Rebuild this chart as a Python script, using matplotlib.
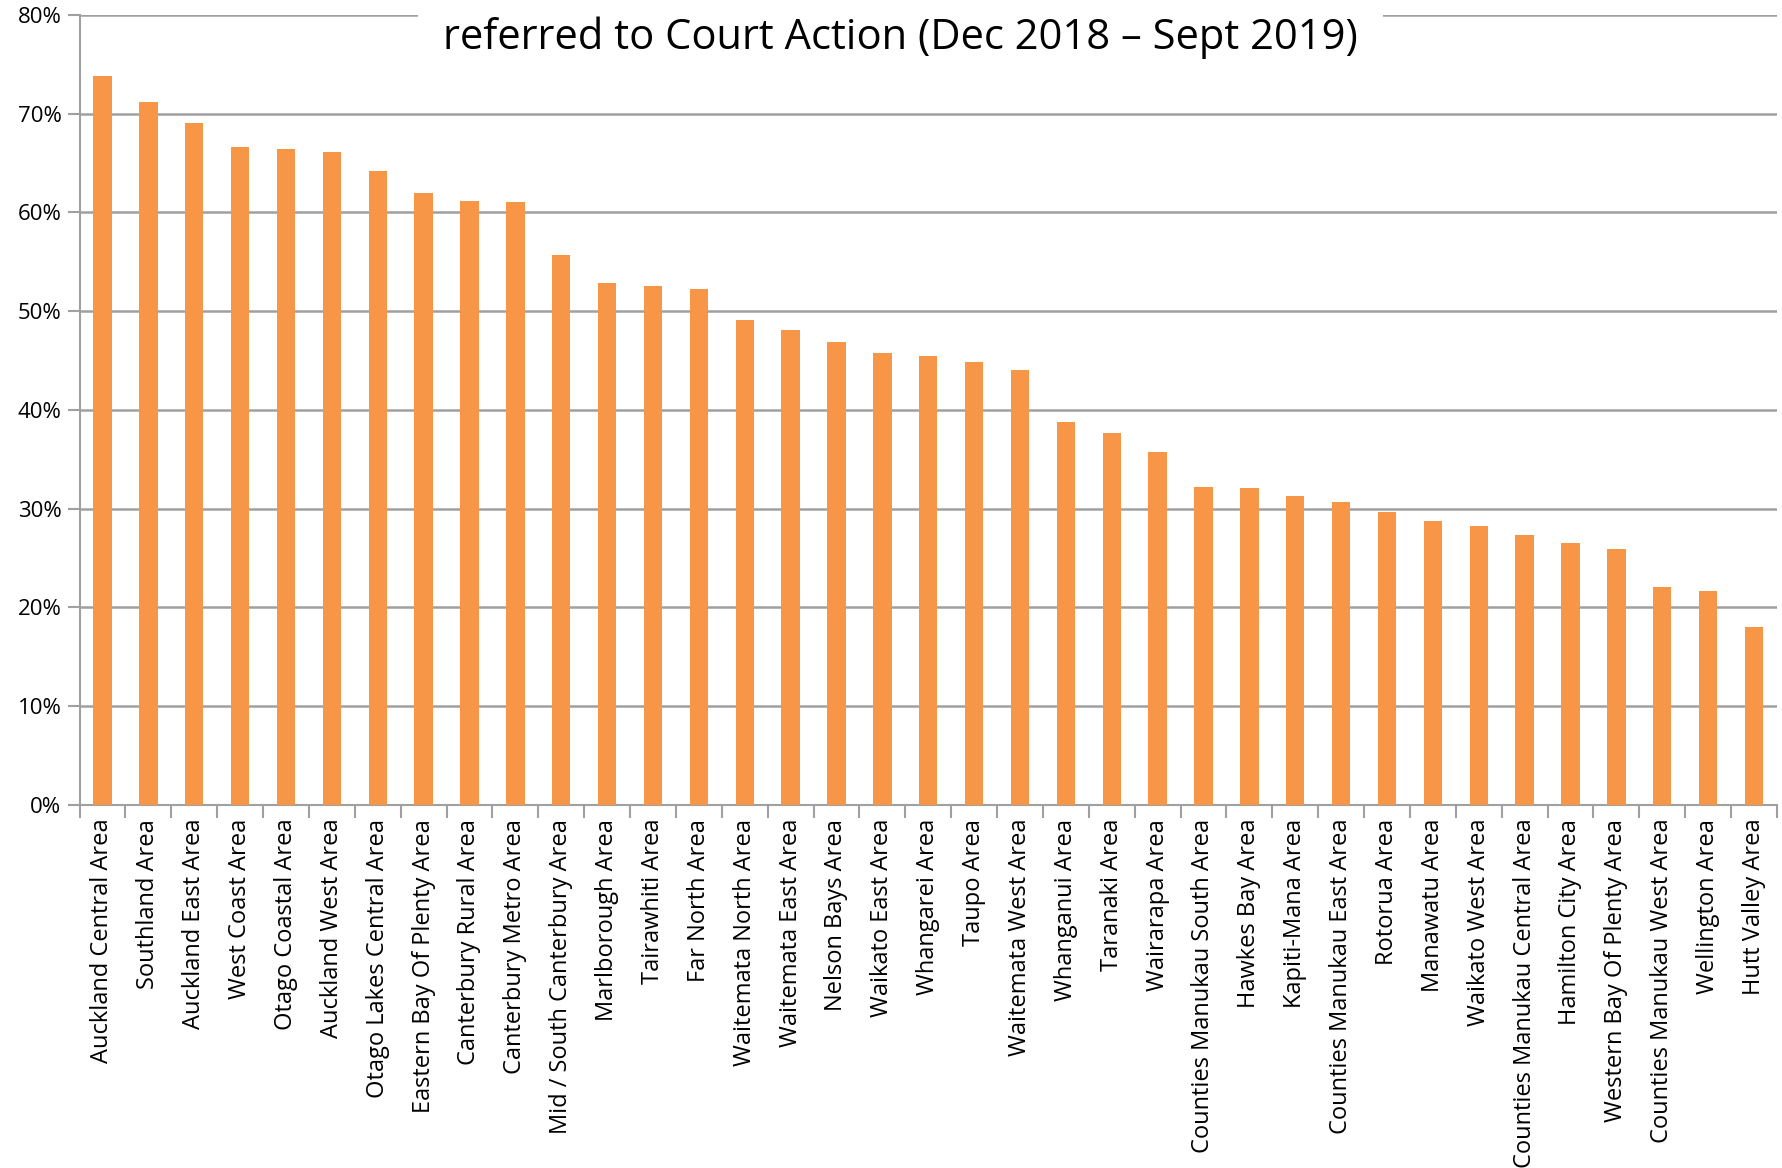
import matplotlib.pyplot as plt
from matplotlib.ticker import PercentFormatter

areas = [
    "Auckland Central Area", "Southland Area", "Auckland East Area", "West Coast Area",
    "Otago Coastal Area", "Auckland West Area", "Otago Lakes Central Area",
    "Eastern Bay Of Plenty Area", "Canterbury Rural Area", "Canterbury Metro Area",
    "Mid / South Canterbury Area", "Marlborough Area", "Tairawhiti Area", "Far North Area",
    "Waitemata North Area", "Waitemata East Area", "Nelson Bays Area", "Waikato East Area",
    "Whangarei Area", "Taupo Area", "Waitemata West Area", "Whanganui Area", "Taranaki Area",
    "Wairarapa Area", "Counties Manukau South Area", "Hawkes Bay Area", "Kapiti-Mana Area",
    "Counties Manukau East Area", "Rotorua Area", "Manawatu Area", "Waikato West Area",
    "Counties Manukau Central Area", "Hamilton City Area", "Western Bay Of Plenty Area",
    "Counties Manukau West Area", "Wellington Area", "Hutt Valley Area",
]
share = [
    73.8, 71.2, 69.0, 66.6, 66.4, 66.1, 64.2, 62.0, 61.2, 61.0,
    55.7, 52.8, 52.5, 52.2, 49.1, 48.1, 46.9, 45.8, 45.5, 44.9,
    44.0, 38.8, 37.7, 35.7, 32.2, 32.1, 31.3, 30.7, 29.7, 28.8,
    28.2, 27.3, 26.5, 25.9, 22.1, 21.7, 18.0,
]
title_line = "referred to Court Action (Dec 2018 \u2013 Sept 2019)"

plt.rcParams["font.family"] = ["Open Sans", "DejaVu Sans"]

fig = plt.figure(figsize=(17.83, 11.68), dpi=100)
ax = fig.add_axes([0.0446, 0.3108, 0.952, 0.6765])

x = range(len(areas))
ax.bar(x, share, width=0.4, color="#F79646", zorder=3)

ax.set_xlim(-0.5, len(areas) - 0.5)
ax.set_ylim(0, 80)
ax.set_yticks(range(0, 81, 10))
ax.yaxis.set_major_formatter(PercentFormatter(decimals=0))
ax.grid(axis="y", color="#A0A0A0", linewidth=1.8, zorder=0)

# category labels centred on bars, tick marks between bars
ax.set_xticks(list(x))
ax.set_xticklabels(areas, rotation=90, fontsize=17)
ax.set_xticks([i - 0.5 for i in range(len(areas) + 1)], minor=True)
ax.tick_params(axis="x", which="major", length=0, pad=10)
ax.tick_params(axis="x", which="minor", length=9, width=1.5, color="#A0A0A0")
ax.tick_params(axis="y", length=9, width=1.5, color="#A0A0A0", labelsize=16, pad=4)

for side in ["top", "right"]:
    ax.spines[side].set_visible(False)
for side in ["left", "bottom"]:
    ax.spines[side].set_color("#A0A0A0")
    ax.spines[side].set_linewidth(1.5)

fig.text(0.505, 0.968, title_line, ha="center", va="center", fontsize=30,
         bbox=dict(facecolor="white", edgecolor="none", pad=18), zorder=5)

fig.savefig("out.png", dpi=100)
plt.close(fig)
